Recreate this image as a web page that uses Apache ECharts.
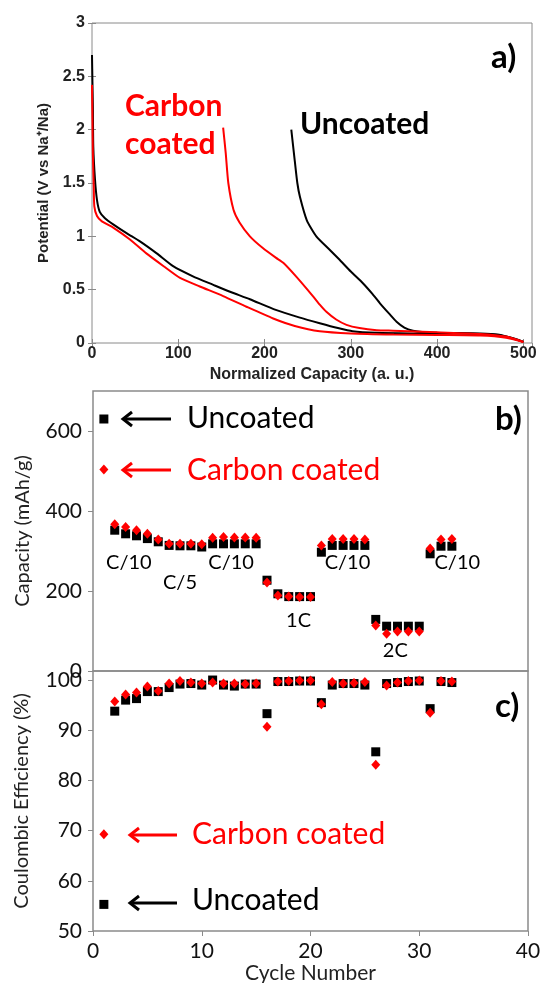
<!DOCTYPE html>
<html>
<head>
<meta charset="utf-8">
<script src="https://cdn.jsdelivr.net/npm/echarts@6/dist/echarts.min.js"></script>
<style>
  html, body { margin: 0; padding: 0; background: #fff; }
  #main { width: 542px; height: 983px; }
</style>
</head>
<body>
<div id="main"></div>
<script>
// a) voltage profiles, [normalized capacity, potential]
var uncoatedFirst = [[0,2.70],[0.5,2.45],[1,2.22],[1.5,1.84],[3.5,1.53],[5.8,1.34],[9,1.23],[15,1.17],[25,1.11],[40,1.03],[56,0.95],[75,0.84],[94,0.72],[117,0.625],[140,0.547],[160,0.48],[183,0.41],[213,0.31],[240,0.24],[264,0.185],[285,0.14],[302,0.11],[330,0.095],[370,0.09],[420,0.088],[450,0.085],[470,0.075],[485,0.05],[495,0.025],[500,0.01]];
var coatedFirst = [[0,2.42],[0.5,2.1],[1,1.78],[2,1.47],[2.7,1.28],[5.8,1.19],[11.5,1.14],[25,1.08],[44,0.97],[63,0.84],[83,0.72],[102,0.61],[125,0.53],[152,0.44],[179,0.34],[210,0.23],[235,0.16],[264,0.11],[300,0.09],[350,0.08],[400,0.075],[450,0.07],[480,0.05],[500,0.01]];
var coatedSecond = [[152,2.02],[155,1.78],[158,1.5],[164,1.25],[171,1.13],[183,1.0],[198,0.89],[213,0.8],[222,0.75],[237,0.62],[256,0.44],[264,0.36],[272,0.29],[283,0.22],[295,0.17],[310,0.14],[330,0.12],[349,0.115],[400,0.1],[450,0.085],[480,0.06],[500,0.01]];
var uncoatedSecond = [[231,2.0],[235,1.71],[238,1.5],[241,1.37],[249,1.15],[260,1.0],[276,0.87],[287,0.78],[300,0.67],[314,0.56],[325,0.46],[334,0.37],[345,0.27],[353,0.2],[362,0.145],[372,0.115],[385,0.1],[400,0.095],[450,0.09],[470,0.08],[490,0.04],[500,0.01]];

// b) and c) per cycle
var cycles = [1,2,3,4,5,6,7,8,9,10,11,12,13,14,15,16,17,18,19,20,21,22,23,24,25,26,27,28,29,30,31,32,33];
var capUncoated = [630,352,343,338,331,323,314,313,313,310,318,318,318,318,318,227,193,186,186,186,297,314,314,314,314,129,112,112,112,112,293,312,312];
var capCoated = [504,367,360,352,343,329,318,318,318,317,333,335,334,334,333,221,189,186,185,185,314,330,330,330,329,114,93,99,99,99,306,329,330];
var effUncoated = [55.3,93.8,96.0,96.3,97.7,97.7,98.5,99.2,99.3,99.0,100.0,99.0,98.8,99.2,99.2,93.3,99.7,99.7,99.8,99.8,95.5,99.0,99.3,99.3,99.0,85.7,99.3,99.5,99.7,99.8,94.3,99.7,99.5];
var effCoated = [69.3,95.7,97.1,97.5,98.7,97.8,99.3,99.8,99.5,99.3,99.5,99.3,99.3,99.2,99.3,90.7,99.7,99.8,99.9,99.9,95.2,99.6,99.3,99.4,99.6,83.1,98.9,99.5,99.8,99.9,93.5,99.8,99.7];

// rate labels in b)
var rateNames = ['C/10','C/5','C/10','1C','C/10','2C','C/10'];
var rateCycles = [3.3,8.0,12.7,18.9,23.4,27.8,33.5];
var rateValues = [272,220,272,127,272,50,272];

function pairs(xs, ys) {
  return xs.map(function (x, i) { return [x, ys[i]]; });
}

var RED = '#ff0000';
var FRAME = '#8a8a8a';
var sansA = 'Liberation Sans';
var sansB = 'Lato';

var chart = echarts.init(document.getElementById('main'));

var mirror = {
  axisLabel: { show: false },
  axisLine: { show: false },
  axisTick: { inside: true, length: 4, lineStyle: { color: FRAME } },
  splitLine: { show: false }
};

var option = {
  animation: false,
  backgroundColor: '#fff',
  grid: [
    { left: 92, right: 10, top: 23, bottom: 640, show: true, borderColor: FRAME, borderWidth: 1, outerBoundsMode: 'none' },
    { left: 93, right: 14, top: 391, bottom: 312, show: true, borderColor: FRAME, borderWidth: 1.5, outerBoundsMode: 'none' },
    { left: 93, right: 14, top: 671, bottom: 52, show: true, borderColor: FRAME, borderWidth: 1.5, outerBoundsMode: 'none' }
  ],
  xAxis: [
    {
      gridIndex: 0, type: 'value', min: 0, max: 510, interval: 100,
      name: 'Normalized Capacity (a. u.)', nameLocation: 'middle', nameGap: 24,
      nameTextStyle: { fontFamily: sansA, fontWeight: 'bold', fontSize: 16, color: '#222' },
      axisLine: { show: false },
      axisTick: { inside: true, length: 4, lineStyle: { color: FRAME } },
      axisLabel: { margin: 3, showMaxLabel: false, fontFamily: sansA, fontWeight: 'bold', fontSize: 16, color: '#222' },
      splitLine: { show: false }
    },
    Object.assign({ gridIndex: 0, type: 'value', position: 'top', min: 0, max: 510, interval: 100 }, mirror),
    {
      gridIndex: 1, type: 'value', min: 0, max: 40, interval: 10,
      axisLine: { show: false }, axisTick: { show: false }, axisLabel: { show: false }, splitLine: { show: false }
    },
    {
      gridIndex: 2, type: 'value', min: 0, max: 40, interval: 10,
      name: 'Cycle Number', nameLocation: 'middle', nameGap: 30,
      nameTextStyle: { fontFamily: sansB, fontSize: 21, color: '#222' },
      axisLine: { show: false },
      axisTick: { length: 5, lineStyle: { color: FRAME } },
      axisLabel: { margin: 10, fontFamily: sansB, fontSize: 21, color: '#111' },
      splitLine: { show: false }
    }
  ],
  yAxis: [
    {
      gridIndex: 0, type: 'value', min: 0, max: 3, interval: 0.5,
      name: 'Potential (V vs Na\u207A/Na)', nameLocation: 'middle', nameGap: 38,
      nameTextStyle: { fontFamily: sansA, fontWeight: 'bold', fontSize: 15, color: '#222' },
      axisLine: { show: false },
      axisTick: { inside: true, length: 4, lineStyle: { color: FRAME } },
      axisLabel: { margin: 7, fontFamily: sansA, fontWeight: 'bold', fontSize: 16, color: '#222' },
      splitLine: { show: false }
    },
    Object.assign({ gridIndex: 0, type: 'value', position: 'right', min: 0, max: 3, interval: 0.5 }, mirror),
    {
      gridIndex: 1, type: 'value', min: 0, max: 700, interval: 200,
      name: 'Capacity (mAh/g)', nameLocation: 'middle', nameGap: 60,
      nameTextStyle: { fontFamily: sansB, fontSize: 20, color: '#222' },
      axisLine: { show: false },
      axisTick: { length: 5, lineStyle: { color: FRAME } },
      axisLabel: { margin: 11, showMaxLabel: false, fontFamily: sansB, fontSize: 21, color: '#111' },
      splitLine: { show: false }
    },
    {
      gridIndex: 2, type: 'value', min: 50, max: 101.8, interval: 10,
      name: 'Coulombic Efficiency (%)', nameLocation: 'middle', nameGap: 61,
      nameTextStyle: { fontFamily: sansB, fontSize: 20, color: '#222' },
      axisLine: { show: false },
      axisTick: { length: 5, lineStyle: { color: FRAME } },
      axisLabel: { margin: 11, showMaxLabel: false, fontFamily: sansB, fontSize: 21, color: '#111' },
      splitLine: { show: false }
    }
  ],
  series: [
    { type: 'line', xAxisIndex: 0, yAxisIndex: 0, data: uncoatedFirst, showSymbol: false, smooth: 0.2, lineStyle: { color: '#000', width: 2 } },
    { type: 'line', xAxisIndex: 0, yAxisIndex: 0, data: uncoatedSecond, showSymbol: false, smooth: 0.2, lineStyle: { color: '#000', width: 2 } },
    { type: 'line', xAxisIndex: 0, yAxisIndex: 0, data: coatedFirst, showSymbol: false, smooth: 0.2, lineStyle: { color: RED, width: 2 } },
    { type: 'line', xAxisIndex: 0, yAxisIndex: 0, data: coatedSecond, showSymbol: false, smooth: 0.2, lineStyle: { color: RED, width: 2 } },

    { type: 'scatter', xAxisIndex: 2, yAxisIndex: 2, data: pairs(cycles, capUncoated), symbol: 'rect', symbolSize: 9, itemStyle: { color: '#000', opacity: 1 } },
    { type: 'scatter', xAxisIndex: 2, yAxisIndex: 2, data: pairs(cycles, capCoated), symbol: 'diamond', symbolSize: [9, 10], itemStyle: { color: RED, opacity: 1 } },
    {
      type: 'scatter', xAxisIndex: 2, yAxisIndex: 2, symbolSize: 0, itemStyle: { opacity: 1 },
      data: rateNames.map(function (n, i) { return { name: n, value: [rateCycles[i], rateValues[i]] }; }),
      label: { show: true, position: 'inside', formatter: '{b}', fontFamily: sansB, fontSize: 20, color: '#000', opacity: 1 }
    },

    { type: 'scatter', xAxisIndex: 3, yAxisIndex: 3, data: pairs(cycles, effUncoated), symbol: 'rect', symbolSize: 9, itemStyle: { color: '#000', opacity: 1 } },
    { type: 'scatter', xAxisIndex: 3, yAxisIndex: 3, data: pairs(cycles, effCoated), symbol: 'diamond', symbolSize: [9, 10], itemStyle: { color: RED, opacity: 1 } }
  ],
  graphic: [
    // panel a texts
    { type: 'text', left: 125, top: 91, style: { text: 'Carbon', fill: RED, font: 'bold 30px Lato' } },
    { type: 'text', left: 125, top: 129, style: { text: 'coated', fill: RED, font: 'bold 30px Lato' } },
    { type: 'text', left: 300, top: 109, style: { text: 'Uncoated', fill: '#000', font: 'bold 30px Lato' } },
    { type: 'text', left: 491, top: 41, style: { text: 'a)', fill: '#000', font: 'bold 33px Lato' } },
    // panel b legend
    { type: 'text', left: 495, top: 403, style: { text: 'b)', fill: '#000', font: 'bold 33px Lato' } },
    { type: 'line', shape: { x1: 124, y1: 419, x2: 171, y2: 419 }, style: { stroke: '#000', lineWidth: 3 } },
    { type: 'polyline', shape: { points: [[132, 412], [123, 419], [132, 426]] }, style: { stroke: '#000', lineWidth: 3, fill: null } },
    { type: 'text', left: 187, top: 403, style: { text: 'Uncoated', fill: '#000', font: '30px Lato' } },
    { type: 'line', shape: { x1: 124, y1: 470, x2: 171, y2: 470 }, style: { stroke: RED, lineWidth: 3 } },
    { type: 'polyline', shape: { points: [[132, 463], [123, 470], [132, 477]] }, style: { stroke: RED, lineWidth: 3, fill: null } },
    { type: 'text', left: 187, top: 455, style: { text: 'Carbon coated', fill: RED, font: '30px Lato' } },
    // panel c legend
    { type: 'text', left: 495, top: 690, style: { text: 'c)', fill: '#000', font: 'bold 33px Lato' } },
    { type: 'line', shape: { x1: 131, y1: 835, x2: 177, y2: 835 }, style: { stroke: RED, lineWidth: 3 } },
    { type: 'polyline', shape: { points: [[139, 828], [130, 835], [139, 842]] }, style: { stroke: RED, lineWidth: 3, fill: null } },
    { type: 'text', left: 192, top: 819, style: { text: 'Carbon coated', fill: RED, font: '30px Lato' } },
    { type: 'line', shape: { x1: 131, y1: 903, x2: 177, y2: 903 }, style: { stroke: '#000', lineWidth: 3 } },
    { type: 'polyline', shape: { points: [[139, 896], [130, 903], [139, 910]] }, style: { stroke: '#000', lineWidth: 3, fill: null } },
    { type: 'text', left: 192, top: 885, style: { text: 'Uncoated', fill: '#000', font: '30px Lato' } }
  ]
};

chart.setOption(option);
</script>
</body>
</html>
